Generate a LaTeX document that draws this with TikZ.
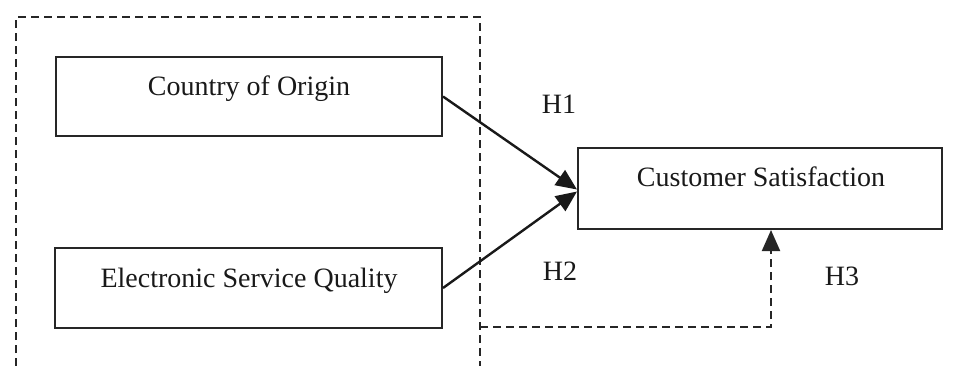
\documentclass[tikz,border=0pt]{standalone}
\usepackage{fontspec}
\setmainfont{Liberation Serif}
\usetikzlibrary{arrows.meta,calc}
\begin{document}
\begin{tikzpicture}[x=1pt,y=-1pt,
  box/.style={draw=black!85,line width=2pt,rectangle,inner sep=0pt},
  lbl/.style={anchor=base,inner sep=0pt,font=\fontsize{28}{34}\selectfont,text=black!90},
  dsh/.style={draw=black!85,line width=2pt,dash pattern=on 8pt off 5pt},
  tip/.style={-{Triangle[length=21pt,width=18pt]}},
  arr/.style={draw=black!90,line width=2.4pt,tip}]
\useasboundingbox (0,0) rectangle (971,365);
% outer dashed frame
\coordinate (fbl) at (16,366);
\coordinate (ftl) at (16,17);
\coordinate (ftr) at (480,17);
\coordinate (fbr) at (480,366);
\draw[dsh] (fbl) -- (ftl) -- (ftr) -- (fbr);
% boxes
\node[box,minimum width=386pt,minimum height=79pt] (coo) at (249,96.5) {};
\node[box,minimum width=387pt,minimum height=80pt] (esq) at (248.5,288) {};
\node[box,minimum width=364pt,minimum height=81pt] (cs) at (760,188.5) {};
% texts
\node[lbl] (tcoo) at (249,95) {Country of Origin};
\node[lbl] (tesq) at (249,287) {Electronic Service Quality};
\node[lbl] (tcs) at (761,186) {Customer Satisfaction};
\node[lbl] (h1) at (559,113) {H1};
\node[lbl] (h2) at (560,280) {H2};
\node[lbl] (h3) at (842,285) {H3};
% arrows
\draw[arr] (coo.east) -- ($(cs.west)+(0,1)$);
\draw[arr] (esq.east) -- ($(cs.west)+(0,3)$);
\coordinate (hs) at (480,327);
\coordinate (hc) at (771,327);
\draw[dsh,tip] (hs) -- (hc) -- (hc |- cs.south);
\end{tikzpicture}
\end{document}
